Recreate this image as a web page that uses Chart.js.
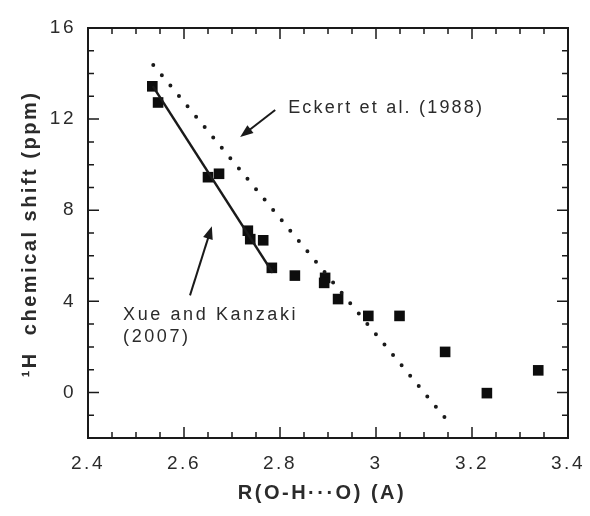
<!DOCTYPE html>
<html lang="en">
<head>
<meta charset="UTF-8">
<title>1H chemical shift vs R(O-H···O)</title>
<script src="https://cdn.jsdelivr.net/npm/chart.js"></script>
<style>
  html, body { margin: 0; padding: 0; background: #fff; }
  #wrap { width: 590px; height: 516px; }
</style>
</head>
<body>
<div id="wrap"><canvas id="shiftChart"></canvas></div>
<script>
// measured points: O···O distance (A) and 1H shift (ppm)
const distance = [2.534, 2.546, 2.650, 2.673, 2.733, 2.738, 2.765, 2.783, 2.831,
                  2.894, 2.892, 2.921, 2.984, 3.049, 3.144, 3.231, 3.338];
const shift = [13.44, 12.73, 9.45, 9.60, 7.10, 6.73, 6.68, 5.47, 5.13,
               5.03, 4.81, 4.10, 3.36, 3.36, 1.78, -0.03, 0.97];

// Xue and Kanzaki (2007) fit, end points
const xueX = [2.535, 2.785];
const xueY = [13.45, 5.25];

// Eckert et al. (1988) correlation, end points
const eckertX = [2.536, 3.144];
const eckertY = [14.38, -1.12];

const xTicks = [2.4, 2.6, 2.8, 3, 3.2, 3.4];
const yTicks = [0, 4, 8, 12, 16];

const ink = '#1a1a1a';
const textInk = '#2b2b2b';
const family = "'Liberation Sans', Arial, Helvetica, sans-serif";
Chart.defaults.font.family = family;

const toPoints = (xs, ys) => xs.map((v, i) => ({ x: v, y: ys[i] }));

function arrow(ctx, x0, y0, x1, y1) {
  const ang = Math.atan2(y1 - y0, x1 - x0);
  const len = 13, half = 5;
  ctx.beginPath();
  ctx.moveTo(x0, y0);
  ctx.lineTo(x1 - Math.cos(ang) * len * 0.8, y1 - Math.sin(ang) * len * 0.8);
  ctx.stroke();
  ctx.beginPath();
  ctx.moveTo(x1, y1);
  ctx.lineTo(x1 - Math.cos(ang) * len - Math.sin(ang) * half, y1 - Math.sin(ang) * len + Math.cos(ang) * half);
  ctx.lineTo(x1 - Math.cos(ang) * len + Math.sin(ang) * half, y1 - Math.sin(ang) * len - Math.cos(ang) * half);
  ctx.closePath();
  ctx.fill();
}

// frame with inward ticks on all four sides, axis titles, labels and arrows
const framePlugin = {
  id: 'frame',
  beforeDraw(chart) {
    chart.ctx.letterSpacing = '2.5px';
  },
  afterDatasetsDraw(chart) {
    const { ctx, chartArea: a, scales: { x, y } } = chart;
    ctx.save();
    ctx.strokeStyle = ink;
    ctx.lineWidth = 2;
    ctx.strokeRect(a.left, a.top, a.right - a.left, a.bottom - a.top);

    ctx.lineWidth = 1.5;
    ctx.beginPath();
    for (let i = 0; i <= 20; i++) {
      const px = x.getPixelForValue(x.min + i * 0.05);
      const len = i % 4 === 0 ? 11 : 6;
      ctx.moveTo(px, a.bottom); ctx.lineTo(px, a.bottom - len);
      ctx.moveTo(px, a.top); ctx.lineTo(px, a.top + len);
    }
    for (let v = y.min; v <= y.max; v++) {
      const py = y.getPixelForValue(v);
      const len = v % 4 === 0 ? 11 : 6;
      ctx.moveTo(a.left, py); ctx.lineTo(a.left + len, py);
      ctx.moveTo(a.right, py); ctx.lineTo(a.right - len, py);
    }
    ctx.stroke();

    // axis titles
    ctx.fillStyle = textInk;
    ctx.font = 'bold 20px ' + family;
    ctx.letterSpacing = '2.5px';
    ctx.textAlign = 'center';
    ctx.textBaseline = 'middle';
    ctx.fillText('R(O-H\u00b7\u00b7\u00b7O) (A)', 322, 493);
    ctx.save();
    ctx.translate(30, 234);
    ctx.rotate(-Math.PI / 2);
    ctx.fillText('\u00b9H  chemical shift (ppm)', 0, 0);
    ctx.restore();

    // annotations
    ctx.font = '18px ' + family;
    ctx.letterSpacing = '2.2px';
    ctx.textAlign = 'left';
    ctx.fillText('Eckert et al. (1988)', x.getPixelForValue(2.817), y.getPixelForValue(12.48));
    ctx.letterSpacing = '2.6px';
    ctx.fillText('Xue and Kanzaki', x.getPixelForValue(2.473), y.getPixelForValue(3.38));
    ctx.fillText('(2007)', x.getPixelForValue(2.473), y.getPixelForValue(2.42));

    ctx.strokeStyle = ink;
    ctx.fillStyle = ink;
    ctx.lineWidth = 2;
    arrow(ctx, x.getPixelForValue(2.790), y.getPixelForValue(12.40),
               x.getPixelForValue(2.717), y.getPixelForValue(11.21));
    arrow(ctx, x.getPixelForValue(2.6125), y.getPixelForValue(4.26),
               x.getPixelForValue(2.658), y.getPixelForValue(7.30));
    ctx.restore();
  }
};

new Chart(document.getElementById('shiftChart'), {
  type: 'scatter',
  data: {
    datasets: [
      {
        label: 'Eckert et al. (1988)',
        data: toPoints(eckertX, eckertY),
        showLine: true,
        pointRadius: 0,
        borderColor: ink,
        borderWidth: 4,
        borderDash: [0, 13.44],
        borderCapStyle: 'round'
      },
      {
        label: 'Xue and Kanzaki (2007)',
        data: toPoints(xueX, xueY),
        showLine: true,
        pointRadius: 0,
        borderColor: ink,
        borderWidth: 2.5
      },
      {
        label: 'data',
        data: toPoints(distance, shift),
        pointStyle: 'rect',
        pointRadius: 7.5,
        borderWidth: 0,
        backgroundColor: '#0d0d0d'
      }
    ]
  },
  options: {
    responsive: true,
    maintainAspectRatio: false,
    animation: false,
    layout: { padding: { left: 0, right: 22, top: 28, bottom: 0 } },
    plugins: { legend: { display: false }, tooltip: { enabled: false } },
    scales: {
      x: {
        type: 'linear',
        min: 2.4,
        max: 3.4,
        afterBuildTicks: s => { s.ticks = xTicks.map(v => ({ value: v })); },
        afterFit: s => { s.height = 78; s.paddingLeft = 0; s.paddingRight = 0; },
        grid: { display: false, drawTicks: false },
        border: { display: false },
        ticks: { padding: 14, color: textInk, font: { size: 19 }, callback: v => String(v) }
      },
      y: {
        type: 'linear',
        min: -2,
        max: 16,
        afterBuildTicks: s => { s.ticks = yTicks.map(v => ({ value: v })); },
        afterFit: s => { s.width = 88; s.paddingTop = 0; s.paddingBottom = 0; },
        grid: { display: false, drawTicks: false },
        border: { display: false },
        ticks: { padding: 12, color: textInk, font: { size: 19 }, callback: v => String(v) }
      }
    }
  },
  plugins: [framePlugin]
});
</script>
</body>
</html>
